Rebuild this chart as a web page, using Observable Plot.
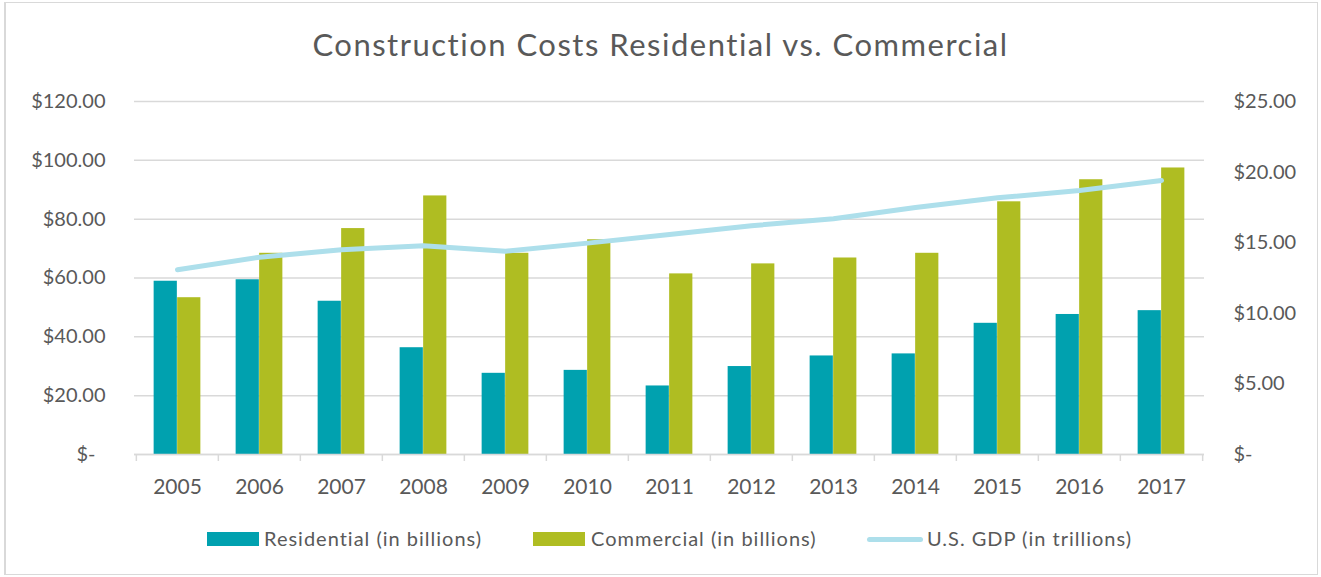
<!DOCTYPE html>
<html>
<head>
<meta charset="utf-8">
<script src="https://cdn.jsdelivr.net/npm/d3@7"></script>
<script src="https://cdn.jsdelivr.net/npm/@observablehq/plot@0.6"></script>
<style>
  html, body { margin: 0; padding: 0; background: #fff; }
  body { width: 1321px; height: 577px; position: relative; overflow: hidden; font-family: Lato, sans-serif; color: #595959; }
  #frame { position: absolute; left: 4px; top: 2px; width: 1311px; height: 571px; border: 1.5px solid #d9d9d9; border-left-width: 2px; box-sizing: content-box; }
  #title { position: absolute; left: 0; width: 1321px; top: 29px; text-align: center; font-size: 31px; line-height: 31px; letter-spacing: 1.5px; white-space: nowrap; }
  #chart { position: absolute; left: 0; top: 80px; }
  .leg { position: absolute; font-size: 20px; line-height: 20px; letter-spacing: 1px; white-space: nowrap; }
  .sw { position: absolute; }
</style>
</head>
<body>
<div id="frame"></div>
<div id="title">Construction Costs Residential vs. Commercial</div>
<div id="chart"></div>
<div id="legend"></div>
<script>
// ---- data ----
const years = ["2005","2006","2007","2008","2009","2010","2011","2012","2013","2014","2015","2016","2017"];
const residential = [58.9, 59.4, 52.1, 36.3, 27.6, 28.6, 23.3, 29.9, 33.5, 34.2, 44.6, 47.6, 48.9];
const commercial  = [53.3, 68.4, 76.8, 87.9, 68.4, 73.0, 61.4, 64.8, 66.8, 68.4, 85.9, 93.4, 97.4];
const gdp         = [13.08, 13.97, 14.5, 14.78, 14.4, 14.97, 15.58, 16.2, 16.7, 17.5, 18.18, 18.7, 19.4];
const leftTicks  = [0, 20, 40, 60, 80, 100, 120];
const rightTicks = [0, 5, 10, 15, 20, 25];
const seriesNames = ["Residential (in billions)", "Commercial (in billions)", "U.S. GDP (in trillions)"];
const colors = ["#00A1AF", "#AFBD22", "#ADDFEB"];

// ---- build ----
const rows = years.map((y, i) => ({year: y, res: residential[i], com: commercial[i], gdp: gdp[i]}));
const k = leftTicks[leftTicks.length - 1] / rightTicks[rightTicks.length - 1];
const money = d3.format("$,.2f");
const fmtLeft = v => v === 0 ? "$-\u2002" : money(v);
const fmtRight = v => Math.abs(v) < 1e-9 ? "$-" : money(v / k);

const W = 1321, H = 430, mL = 134, mR = 117, mT = 21, mB = 56;
const bw = (W - mL - mR) / years.length;
const barW = bw * 0.2857;
const outer = (bw - 2 * barW) / 2;
const grid = "#d9d9d9";

const chart = Plot.plot({
  width: W, height: H,
  marginLeft: mL, marginRight: mR, marginTop: mT, marginBottom: mB,
  style: {fontFamily: "Lato, sans-serif", fontSize: "20px", color: "#595959", background: "transparent", overflow: "visible"},
  x: {type: "band", domain: years, padding: 0},
  y: {domain: [0, 120]},
  marks: [
    Plot.gridY(leftTicks, {stroke: grid, strokeOpacity: 1, strokeWidth: 1.5}),
    Plot.barY(rows, {x: "year", y: "res", fill: colors[0], insetLeft: outer, insetRight: outer + barW}),
    Plot.barY(rows, {x: "year", y: "com", fill: colors[1], insetLeft: outer + barW, insetRight: outer}),
    Plot.ruleY([0], {stroke: grid, strokeWidth: 1.5}),
    Plot.ruleX(years, {x: d => d, y1: 0, y2: 0, insetBottom: -7, dx: -bw / 2, stroke: grid, strokeWidth: 1.5}),
    Plot.ruleX(years.slice(-1), {x: d => d, y1: 0, y2: 0, insetBottom: -7, dx: bw / 2, stroke: grid, strokeWidth: 1.5}),
    Plot.line(rows, {x: "year", y: d => d.gdp * k, stroke: colors[2], strokeWidth: 5, strokeLinecap: "round", strokeLinejoin: "round"}),
    Plot.axisX({tickSize: 0, tickPadding: 25, label: null, fontSize: 21}),
    Plot.axisY({anchor: "left", ticks: leftTicks, tickFormat: fmtLeft, tickSize: 0, tickPadding: 29, label: null, fontSize: 20}),
    Plot.axisY({anchor: "right", ticks: rightTicks.map(v => v * k), tickFormat: fmtRight, tickSize: 0, tickPadding: 29, label: null, fontSize: 20})
  ]
});
document.getElementById("chart").appendChild(chart);

// ---- legend ----
const legend = document.getElementById("legend");
const legItems = [
  {sw: {left: 207, top: 532, width: 52, height: 14, radius: 0}, text: 264},
  {sw: {left: 533, top: 532, width: 52, height: 14, radius: 0}, text: 591},
  {sw: {left: 867, top: 536.5, width: 56, height: 5, radius: 3}, text: 927}
];
legItems.forEach((it, i) => {
  const s = document.createElement("div");
  s.className = "sw";
  Object.assign(s.style, {left: it.sw.left + "px", top: it.sw.top + "px", width: it.sw.width + "px", height: it.sw.height + "px", background: colors[i], borderRadius: it.sw.radius + "px"});
  legend.appendChild(s);
  const t = document.createElement("div");
  t.className = "leg";
  t.style.left = it.text + "px";
  t.style.top = "528px";
  t.textContent = seriesNames[i];
  legend.appendChild(t);
});
</script>
</body>
</html>
